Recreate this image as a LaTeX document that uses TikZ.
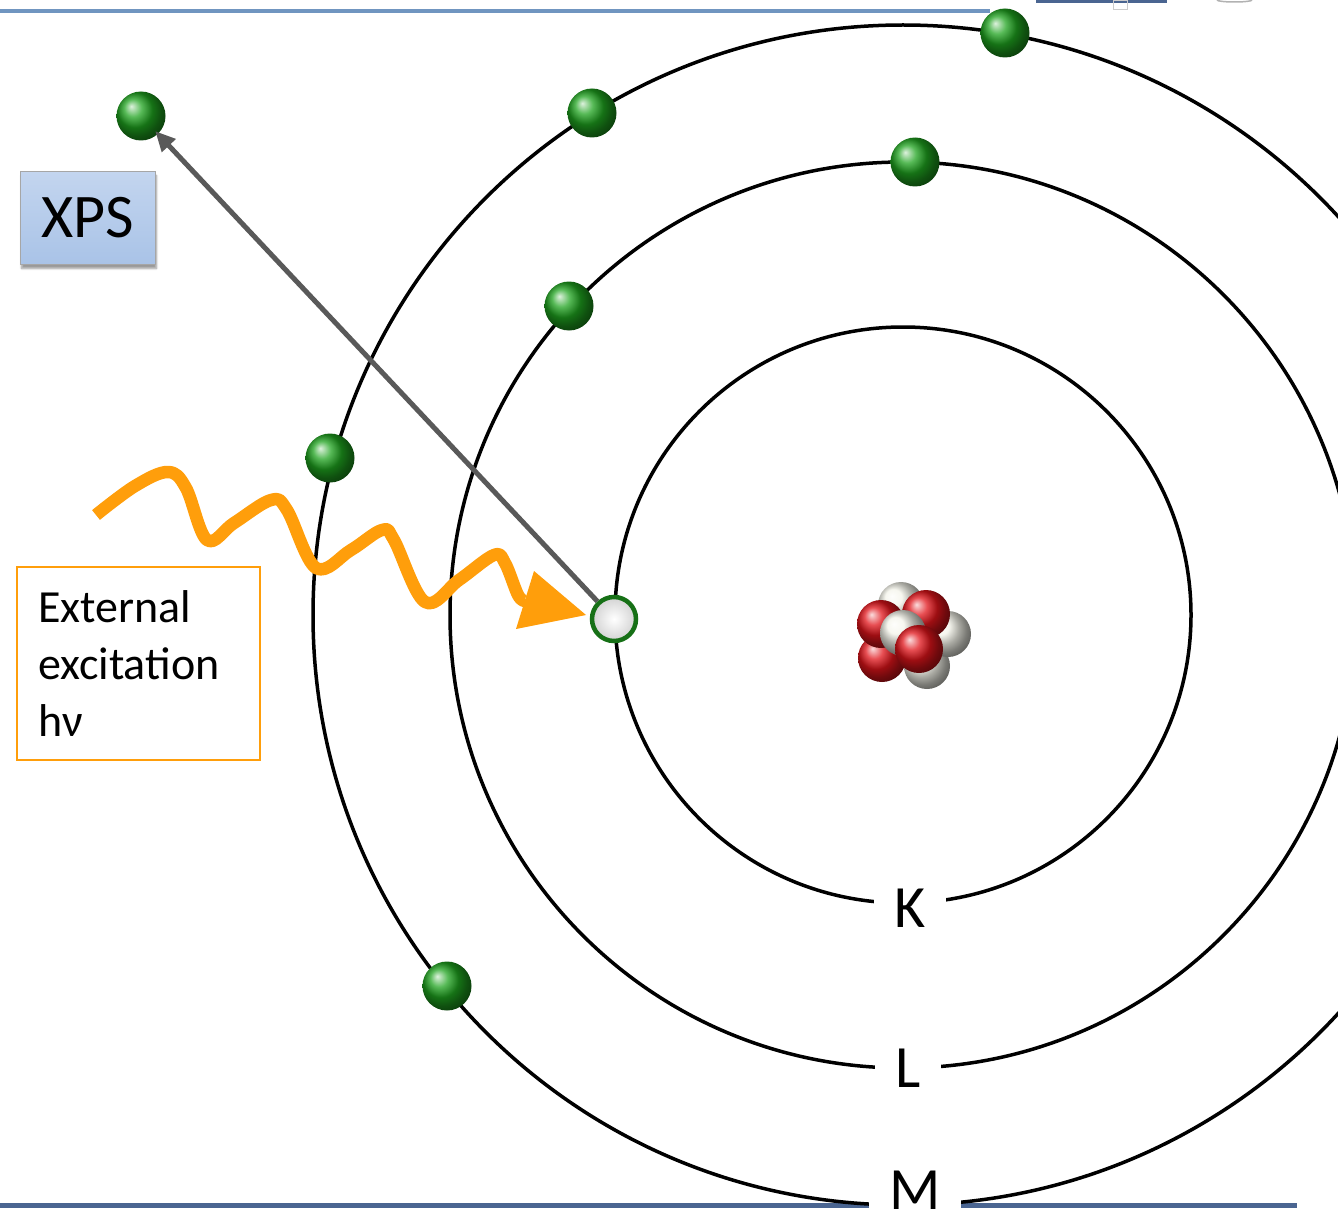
\documentclass[tikz,border=0pt]{standalone}
\usepackage{fontspec}
\setmainfont{Carlito}
\usetikzlibrary{arrows.meta,shadows.blur}
\definecolor{photon}{HTML}{FF9E0B}
\definecolor{xpsfill}{HTML}{A9C3E7}
\definecolor{xpstop}{HTML}{C3D5EF}
\definecolor{rulelight}{HTML}{7095C0}
\definecolor{ruledark}{HTML}{4A6591}
\definecolor{electron}{HTML}{1FA31F}
\definecolor{holerim}{HTML}{167016}
\definecolor{pathgray}{HTML}{595959}
\definecolor{proton}{HTML}{E0141A}
\definecolor{neutron}{HTML}{F4F4EA}

\begin{document}
\begin{tikzpicture}[x=1pt,y=-1pt,
  orbit/.style={line width=3.5pt},
  shell/.style={fill=white, inner xsep=20pt, inner ysep=1pt,
    font=\fontsize{60}{60}\selectfont},
  electronball/.style={circle, minimum size=49pt, inner sep=0pt, ball color=electron},
  holeball/.style={circle, minimum size=44pt, inner sep=0pt, draw=holerim,
    line width=4.5pt, inner color=white, outer color=gray!35},
  protonball/.style={circle, minimum size=48pt, inner sep=0pt, ball color=proton},
  neutronball/.style={circle, minimum size=46pt, inner sep=0pt, ball color=neutron},
  wave/.style={draw=photon, line width=12.5pt, line join=round},
  ejection/.style={draw=pathgray, line width=5pt,
    -{Triangle[length=20pt,width=18pt]}, shorten >=-4pt},
  xpsbox/.style={rectangle, minimum width=135pt, minimum height=93pt,
    draw=gray!70, line width=1.2pt, top color=xpstop, bottom color=xpsfill,
    blur shadow={shadow xshift=1pt, shadow yshift=-4pt, shadow blur steps=6},
    font=\fontsize{62}{62}\selectfont},
  textbox/.style={rectangle, minimum width=243pt, minimum height=193pt,
    draw=photon, line width=2pt, align=left, text width=201pt, inner xsep=21pt,
    font=\fontsize{46}{57}\selectfont}
]
\useasboundingbox (0,0) rectangle (1338,1209);

% page rules and header fragments
\draw[rulelight, line width=4.5pt] (0,11) -- (990,11);
\fill[ruledark] (1036,0) rectangle (1167,3);
\draw[gray!40, line width=0.8pt] (1113,0) rectangle (1127,9);
\draw[gray!60, line width=1.5pt] (1217,0) arc[start angle=180, end angle=0, x radius=17.5pt, y radius=-2pt];
\draw[ruledark, line width=5pt] (0,1205) -- (1297,1205);

% shells
\coordinate (c) at (903,615);
\draw[orbit] (c) circle[radius=288pt];
\draw[orbit] (c) circle[radius=453pt];
\draw[orbit] (c) circle[radius=590pt];
\node[shell] (K) at (910,908) {K};
\node[shell] (L) at (908,1068) {L};
\node[shell] (M) at (915,1190) {M};

% nucleus
\node[neutronball] (n1) at (927,666) {};
\node[neutronball] (n2) at (901,605) {};
\node[neutronball] (n3) at (948,634) {};
\node[protonball]  (p1) at (882,658) {};
\node[protonball]  (p2) at (881,624) {};
\node[protonball]  (p3) at (926,614) {};
\node[neutronball] (n4) at (903,633) {};
\node[protonball]  (p4) at (919,649) {};

% electrons
\node[electronball] (free) at (141,116) {};
\node[electronball] (m1) at (592,113) {};
\node[electronball] (m2) at (1005,33) {};
\node[electronball] (m3) at (330,458) {};
\node[electronball] (m4) at (447,986) {};
\node[electronball] (l1) at (915,162) {};
\node[electronball] (l2) at (569,306) {};
\node[holeball] (hole) at (614,619) {};

% photoelectron path
\draw[ejection] (hole) -- (free);

% incoming photon
\coordinate (wstart) at (96,515);
\coordinate (wend) at (525,601);
\coordinate (wtip) at (586,615);
\draw[wave] plot[smooth, tension=0.6] coordinates {
  (wstart) (135,486) (168,472) (186,488) (207,540) (234,523) (271,500)
  (287,510) (316,568) (351,550) (382,530) (394,540) (425,602) (459,580)
  (494,555) (505,563) (518,595) (wend)};
\fill[photon] (534,571) -- (wtip) -- (516,629) -- cycle;

% labels
\node[xpsbox] (xps) at (88,218) {XPS};
\node[textbox] (exc) at (138.5,663.5) {External\\excitation\\hν};
\end{tikzpicture}
\end{document}
